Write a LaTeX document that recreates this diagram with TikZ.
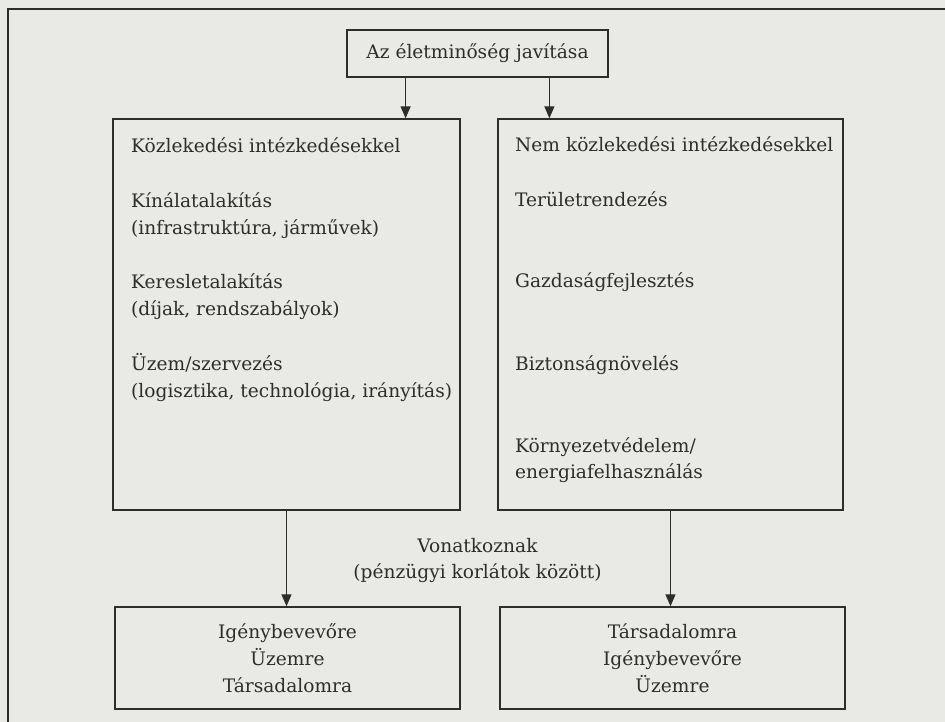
\documentclass[tikz,border=0pt]{standalone}
\usepackage{fontspec}
\setmainfont{DejaVu Serif}
\usetikzlibrary{arrows.meta,calc}
\definecolor{paper}{RGB}{233,233,230}
\definecolor{ink}{RGB}{45,45,45}
\begin{document}
\begin{tikzpicture}[x=1pt,y=-1pt,
  box/.style={draw=ink,line width=1.4pt,rectangle,inner sep=0pt,text=ink,align=center},
  item/.style={anchor=base west,inner sep=0pt,text=ink},
  note/.style={anchor=base,inner sep=0pt,text=ink},
  flow/.style={draw=ink,line width=1.3pt,-{Triangle[width=10pt,length=12pt]}},
  font=\fontsize{18.6}{27}\selectfont]
% page and frame
\fill[paper] (0,0) rectangle (945,722);
\useasboundingbox (0,0) rectangle (945,722);
\draw[ink,line width=1.8pt] (945,9) -- (8,9) -- (8,722);

% goal
\node[box,minimum width=261pt,minimum height=47pt] (goal) at (477.5,53.5) {Az életminőség javítása};

% the two groups of measures
\node[box,minimum width=347pt,minimum height=391pt] (lbox) at (286.5,314.5) {};
\node[box,minimum width=345pt,minimum height=391pt] (rbox) at (670.5,314.5) {};

\node[item] (l1) at (131,153) {Közlekedési intézkedésekkel};
\node[item] (l2) at (131,208) {Kínálatalakítás};
\node[item] (l3) at (131,235) {(infrastruktúra, járművek)};
\node[item] (l4) at (131,288) {Keresletalakítás};
\node[item] (l5) at (131,315) {(díjak, rendszabályok)};
\node[item] (l6) at (131,370) {Üzem/szervezés};
\node[item] (l7) at (131,397) {(logisztika, technológia, irányítás)};

\node[item] (r1) at (515,152) {Nem közlekedési intézkedésekkel};
\node[item] (r2) at (515,207) {Területrendezés};
\node[item] (r3) at (515,287) {Gazdaságfejlesztés};
\node[item] (r4) at (515,370) {Biztonságnövelés};
\node[item] (r5) at (515,452) {Környezetvédelem/};
\node[item] (r6) at (515,478) {energiafelhasználás};

% targets
\node[box,minimum width=345pt,minimum height=102pt] (lbot) at (287.5,658) {Igénybevevőre\\Üzemre\\Társadalomra};
\node[box,minimum width=345pt,minimum height=102pt] (rbot) at (672.5,658) {Társadalomra\\Igénybevevőre\\Üzemre};

\node[note] (n1) at (477.5,552) {Vonatkoznak};
\node[note] (n2) at (477.5,578) {(pénzügyi korlátok között)};

% connectors
\coordinate (g1) at ($(goal.south west)!0.226!(goal.south east)$);
\coordinate (g2) at ($(goal.south west)!0.774!(goal.south east)$);
\draw[flow] (g1) -- (g1 |- lbox.north);
\draw[flow] (g2) -- (g2 |- rbox.north);
\draw[flow] (lbox.south) -- (lbox.south |- lbot.north);
\draw[flow] (rbox.south) -- (rbox.south |- rbot.north);
\end{tikzpicture}
\end{document}
